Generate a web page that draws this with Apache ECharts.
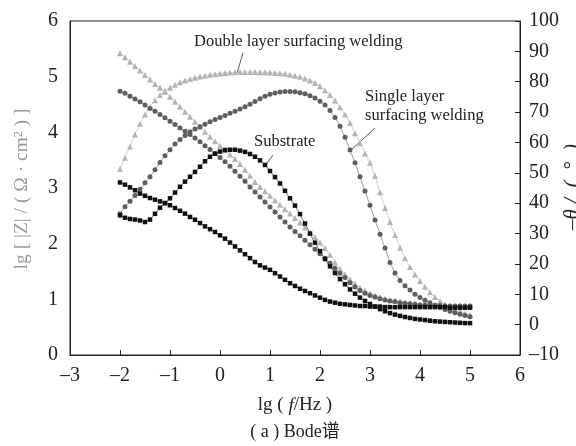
<!DOCTYPE html>
<html>
<head>
<meta charset="utf-8">
<script src="https://cdn.jsdelivr.net/npm/echarts@6/dist/echarts.min.js"></script>
<style>
  html, body { margin: 0; padding: 0; background: #fff; }
  #chart { width: 576px; height: 446px; }
</style>
</head>
<body>
<div id="chart"></div>
<script>
// lg(f/Hz), 10 points per decade
const lgF = [-2.0,-1.9,-1.8,-1.7,-1.6,-1.5,-1.4,-1.3,-1.2,-1.1,-1.0,-0.9,-0.8,-0.7,-0.6,-0.5,-0.4,-0.3,-0.2,-0.1,
  0.0,0.1,0.2,0.3,0.4,0.5,0.6,0.7,0.8,0.9,1.0,1.1,1.2,1.3,1.4,1.5,1.6,1.7,1.8,1.9,
  2.0,2.1,2.2,2.3,2.4,2.5,2.6,2.7,2.8,2.9,3.0,3.1,3.2,3.3,3.4,3.5,3.6,3.7,3.8,3.9,
  4.0,4.1,4.2,4.3,4.4,4.5,4.6,4.7,4.8,4.9,5.0];

// lg|Z| (left axis)
const substrateZ = [3.10,3.06,3.01,2.96,2.90,2.86,2.82,2.79,2.76,2.73,2.69,2.64,2.59,2.54,2.48,2.43,2.37,2.31,2.26,2.21,
  2.15,2.09,2.02,1.95,1.88,1.81,1.74,1.67,1.61,1.57,1.53,1.47,1.41,1.35,1.29,1.24,1.19,1.15,1.11,1.07,
  1.03,0.99,0.96,0.94,0.92,0.91,0.90,0.89,0.88,0.88,0.87,0.87,0.87,0.86,0.86,0.86,0.86,0.86,0.86,0.86,
  0.86,0.86,0.86,0.86,0.86,0.86,0.85,0.85,0.85,0.85,0.85];
const singleZ = [4.74,4.70,4.65,4.60,4.55,4.49,4.43,4.38,4.32,4.26,4.20,4.14,4.08,4.02,3.96,3.90,3.83,3.76,3.69,3.62,
  3.55,3.47,3.39,3.30,3.21,3.12,3.02,2.93,2.84,2.75,2.66,2.57,2.48,2.39,2.30,2.22,2.14,2.06,1.98,1.90,
  1.82,1.74,1.65,1.56,1.47,1.39,1.30,1.22,1.16,1.11,1.07,1.04,1.01,0.99,0.97,0.96,0.94,0.93,0.92,0.91,
  0.90,0.90,0.89,0.89,0.89,0.88,0.88,0.88,0.88,0.88,0.88];
const doubleZ = [5.42,5.35,5.27,5.19,5.11,5.03,4.95,4.87,4.80,4.73,4.64,4.55,4.46,4.37,4.28,4.19,4.10,4.01,3.92,3.84,
  3.76,3.68,3.60,3.52,3.43,3.33,3.22,3.11,3.02,2.94,2.86,2.78,2.70,2.62,2.54,2.46,2.38,2.29,2.20,2.12,
  2.02,1.92,1.80,1.66,1.55,1.45,1.36,1.28,1.21,1.16,1.11,1.07,1.04,1.01,0.99,0.97,0.96,0.94,0.93,0.92,
  0.91,0.90,0.90,0.89,0.89,0.89,0.88,0.88,0.88,0.88,0.88];

// -theta in degrees (right axis)
const substratePh = [36.0,35.2,34.8,34.6,34.3,33.8,34.6,36.5,38.5,40.0,41.6,43.5,45.4,47.1,48.7,50.3,52.0,53.8,55.3,56.3,
  57.0,57.5,57.6,57.6,57.3,56.9,56.2,55.3,54.1,52.6,50.6,48.6,46.5,44.1,41.6,39.2,36.4,33.3,30.0,27.0,
  24.2,21.6,19.2,17.0,15.0,13.3,11.6,10.2,8.9,7.8,6.8,5.9,5.1,4.4,3.8,3.3,2.9,2.5,2.2,1.9,
  1.7,1.5,1.3,1.1,1.0,0.9,0.8,0.7,0.6,0.5,0.5];
const singlePh = [36.5,38.8,40.6,42.5,44.6,46.7,48.7,51.0,53.4,55.6,57.6,59.5,61.0,62.3,63.5,64.4,65.2,66.0,66.8,67.6,
  68.2,68.9,69.6,70.3,71.0,71.8,72.6,73.5,74.4,75.2,75.9,76.3,76.6,76.8,76.8,76.7,76.4,76.0,75.4,74.6,
  73.6,72.3,70.5,68.2,65.3,61.7,57.5,53.3,48.7,44.0,39.3,34.5,29.8,25.2,20.5,17.0,14.5,12.8,11.4,10.0,
  8.9,8.0,7.2,6.4,5.7,5.0,4.4,3.9,3.4,3.0,2.6];
const doublePh = [51.3,55.0,58.7,62.6,66.2,69.2,71.8,73.9,75.6,76.9,78.0,79.0,79.8,80.4,80.9,81.3,81.7,82.0,82.3,82.5,
  82.7,82.9,83.0,83.1,83.2,83.2,83.2,83.2,83.1,83.1,83.0,82.9,82.8,82.6,82.3,82.0,81.6,81.1,80.4,79.6,
  78.5,77.2,75.6,73.8,71.6,69.2,66.4,63.0,59.7,56.4,53.3,49.0,43.6,38.4,33.8,29.5,25.3,21.9,19.0,16.5,
  14.4,12.5,10.7,9.1,7.8,6.7,5.8,5.0,4.3,3.7,3.2];

const FONT = '"Liberation Serif", "Times New Roman", serif';
const BLACK = '#111';
const DARK = '#5e5e5e';
const LIGHT = '#b4b4b4';

function pairs(ys) {
  return lgF.map((x, i) => [x, ys[i]]);
}

function minusFmt(v) {
  return v < 0 ? '\u2013' + Math.abs(v) : String(v);
}

// один и тот же стиль для всех шести кривых, меняется только маркер/цвет/ось
function curve(name, ys, axis, symbol, size, color) {
  return {
    name: name,
    type: 'line',
    yAxisIndex: axis,
    data: pairs(ys),
    symbol: symbol,
    symbolSize: size,
    itemStyle: { color: color },
    lineStyle: { color: color, width: 0.6 },
    silent: true,
    animation: false
  };
}

const chart = echarts.init(document.getElementById('chart'), null, { renderer: 'canvas' });

chart.setOption({
  backgroundColor: '#fff',
  animation: false,
  grid: {
    left: 70, right: 56, top: 21, bottom: 91,
    show: true, borderColor: '#222', borderWidth: 1, backgroundColor: 'transparent'
  },
  xAxis: {
    type: 'value', min: -3, max: 6, interval: 1,
    axisLine: { onZero: false, lineStyle: { color: '#222', width: 1 } },
    axisTick: { inside: true, length: 5, lineStyle: { color: '#222' } },
    axisLabel: { color: '#222', fontFamily: FONT, fontSize: 20, margin: 11, formatter: minusFmt },
    splitLine: { show: false },
    name: '{n|lg ( }{i|f}{n|/Hz )}',
    nameLocation: 'middle',
    nameGap: 41,
    nameTextStyle: {
      rich: {
        n: { fontFamily: FONT, fontSize: 19, color: '#222' },
        i: { fontFamily: FONT, fontSize: 19, color: '#222', fontStyle: 'italic' }
      }
    }
  },
  yAxis: [
    {
      type: 'value', min: 0, max: 6, interval: 1, position: 'left',
      axisLine: { show: true, onZero: false, lineStyle: { color: '#222' } },
      axisTick: { show: false },
      axisLabel: { color: '#222', fontFamily: FONT, fontSize: 20, margin: 12 },
      splitLine: { show: false }
    },
    {
      type: 'value', min: -10, max: 100, interval: 10, position: 'right',
      axisLine: { show: true, onZero: false, lineStyle: { color: '#222' } },
      axisTick: { inside: true, length: 5, lineStyle: { color: '#222' } },
      axisLabel: { color: '#222', fontFamily: FONT, fontSize: 20, margin: 9, formatter: minusFmt },
      splitLine: { show: false }
    }
  ],
  series: [
    curve('Double |Z|', doubleZ, 0, 'triangle', 6, LIGHT),
    curve('Double phase', doublePh, 1, 'triangle', 6, LIGHT),
    curve('Single |Z|', singleZ, 0, 'circle', 5, DARK),
    curve('Single phase', singlePh, 1, 'circle', 5, DARK),
    curve('Substrate |Z|', substrateZ, 0, 'rect', 4.5, BLACK),
    curve('Substrate phase', substratePh, 1, 'rect', 4.5, BLACK)
  ],
  graphic: [
    // подписи кривых и выноски
    { type: 'text', left: 194, top: 33, style: { text: 'Double layer surfacing welding', font: '16.5px ' + FONT, fill: '#222' } },
    { type: 'line', shape: { x1: 243, y1: 53, x2: 237, y2: 73 }, style: { stroke: '#333', lineWidth: 0.8 } },
    { type: 'text', left: 365, top: 87, style: { text: 'Single layer\nsurfacing welding', font: '16.5px ' + FONT, fill: '#222', lineHeight: 19 } },
    { type: 'line', shape: { x1: 375, y1: 128, x2: 351, y2: 150 }, style: { stroke: '#333', lineWidth: 0.8 } },
    { type: 'text', left: 254, top: 133, style: { text: 'Substrate', font: '16.5px ' + FONT, fill: '#222' } },
    { type: 'line', shape: { x1: 273, y1: 155, x2: 265, y2: 166 }, style: { stroke: '#333', lineWidth: 0.8 } },
    // названия осей Y
    {
      type: 'text', x: 22, y: 189, rotation: Math.PI / 2,
      style: { text: 'lg [ |Z| / ( \u03A9 \u00B7 cm\u00B2 ) ]', font: '19.5px ' + FONT, fill: '#9a9a9a', align: 'center', verticalAlign: 'middle' }
    },
    {
      type: 'text', x: 572, y: 187, rotation: Math.PI / 2,
      style: { text: '\u2013\u03B8 /  (  \u00B0  )', font: 'italic 21px ' + FONT, fill: '#222', align: 'center', verticalAlign: 'middle' }
    },
    // подпись рисунка
    { type: 'text', x: 295, y: 432, style: { text: '( a ) Bode\u8C31', font: '18px ' + FONT + ', "Noto Sans CJK SC"', fill: '#222', align: 'center', verticalAlign: 'middle' } }
  ]
});
</script>
</body>
</html>
